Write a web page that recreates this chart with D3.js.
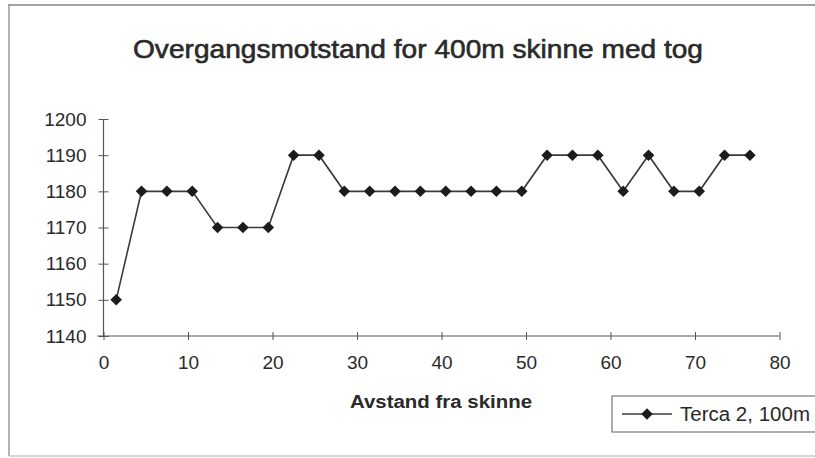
<!DOCTYPE html>
<html>
<head>
<meta charset="utf-8">
<script src="https://cdn.jsdelivr.net/npm/d3@7"></script>
<style>
  html, body { margin: 0; padding: 0; background: #fff; }
  svg { display: block; }
  text { font-family: "Liberation Sans", Arial, sans-serif; fill: #2a2a2a; }
</style>
</head>
<body>
<svg id="chart" width="815" height="458"></svg>
<script>
const title = "Overgangsmotstand for 400m skinne med tog";
const xLabel = "Avstand fra skinne";
const seriesName = "Terca 2, 100m";
const distances = [1.5, 4.5, 7.5, 10.5, 13.5, 16.5, 19.5, 22.5, 25.5, 28.5, 31.5, 34.5, 37.5,
                   40.5, 43.5, 46.5, 49.5, 52.5, 55.5, 58.5, 61.5, 64.5, 67.5, 70.5, 73.5, 76.5];
const resistance = [1150, 1180, 1180, 1180, 1170, 1170, 1170, 1190, 1190, 1180, 1180, 1180, 1180,
                    1180, 1180, 1180, 1180, 1190, 1190, 1190, 1180, 1190, 1180, 1180, 1190, 1190];
const xTicks = [0, 10, 20, 30, 40, 50, 60, 70, 80];
const yTicks = [1140, 1150, 1160, 1170, 1180, 1190, 1200];

const svg = d3.select("#chart");

// outer frame (scanned look)
const frame = svg.append("g").attr("stroke", "#9a9a9a").attr("stroke-width", 1.5);
frame.append("line").attr("x1", 8).attr("y1", 5).attr("x2", 815).attr("y2", 5).attr("stroke", "#808080");
frame.append("line").attr("x1", 9).attr("y1", 5).attr("x2", 9).attr("y2", 456);
frame.append("line").attr("x1", 9).attr("y1", 456).attr("x2", 815).attr("y2", 456).attr("stroke", "#c8c8c8");

const x = d3.scaleLinear().domain([0, 80]).range([103.5, 779.5]);
const y = d3.scaleLinear().domain([1140, 1200]).range([336, 119]);

// title
svg.append("text")
  .attr("x", 418).attr("y", 58)
  .attr("text-anchor", "middle")
  .attr("font-size", 26)
  .attr("stroke", "#2a2a2a").attr("stroke-width", 0.6)
  .attr("textLength", 570).attr("lengthAdjust", "spacingAndGlyphs")
  .text(title);

const tickFont = 19;

// y axis
const yAxis = svg.append("g").attr("transform", `translate(${x(0)},0)`)
  .call(d3.axisLeft(y).tickValues(yTicks).tickSize(5).tickPadding(12).tickFormat(d3.format("d")));
yAxis.select(".domain").attr("stroke", "#555").attr("stroke-width", 1.2).attr("d", `M0,${y(1200)}V${y(1140)}`);
yAxis.selectAll(".tick line").attr("stroke", "#555").attr("x1", 5).attr("x2", -5);
yAxis.selectAll(".tick text").attr("font-size", tickFont).attr("fill", "#2a2a2a")
  .attr("font-family", "'Liberation Sans', Arial, sans-serif");

// x axis
const xAxis = svg.append("g").attr("transform", `translate(0,${y(1140)})`)
  .call(d3.axisBottom(x).tickValues(xTicks).tickSize(5).tickPadding(15).tickFormat(d3.format("d")));
xAxis.select(".domain").attr("stroke", "#555").attr("stroke-width", 1.2).attr("d", `M${x(0) - 6},0H${x(80)}`);
xAxis.selectAll(".tick line").attr("stroke", "#555").attr("y1", -4).attr("y2", 4);
xAxis.selectAll(".tick text").attr("font-size", tickFont).attr("fill", "#2a2a2a")
  .attr("font-family", "'Liberation Sans', Arial, sans-serif");

// x label
svg.append("text")
  .attr("x", 441).attr("y", 408)
  .attr("text-anchor", "middle")
  .attr("font-size", 18).attr("font-weight", "bold")
  .attr("textLength", 182).attr("lengthAdjust", "spacingAndGlyphs")
  .text(xLabel);

// data
const data = distances.map((d, i) => ({ x: d, y: resistance[i] }));
const line = d3.line().x(d => x(d.x)).y(d => y(d.y));
svg.append("path").datum(data)
  .attr("fill", "none").attr("stroke", "#3a3a3a").attr("stroke-width", 1.6)
  .attr("d", line);

const diamond = d3.symbol().type(d3.symbolDiamond2).size(85);
svg.selectAll(".pt").data(data).enter().append("path")
  .attr("class", "pt")
  .attr("transform", d => `translate(${x(d.x)},${y(d.y)})`)
  .attr("d", diamond)
  .attr("fill", "#1c1c1c");

// legend
const lg = svg.append("g");
lg.append("rect").attr("x", 612).attr("y", 396).attr("width", 210).attr("height", 36)
  .attr("fill", "#fff").attr("stroke", "#777").attr("stroke-width", 1.2);
lg.append("line").attr("x1", 622).attr("x2", 672).attr("y1", 414).attr("y2", 414)
  .attr("stroke", "#3a3a3a").attr("stroke-width", 1.6);
lg.append("path").attr("transform", "translate(647,414)").attr("d", diamond).attr("fill", "#1c1c1c");
lg.append("text").attr("x", 680).attr("y", 421).attr("font-size", 20)
  .attr("textLength", 130).attr("lengthAdjust", "spacingAndGlyphs")
  .text(seriesName);
</script>
</body>
</html>
